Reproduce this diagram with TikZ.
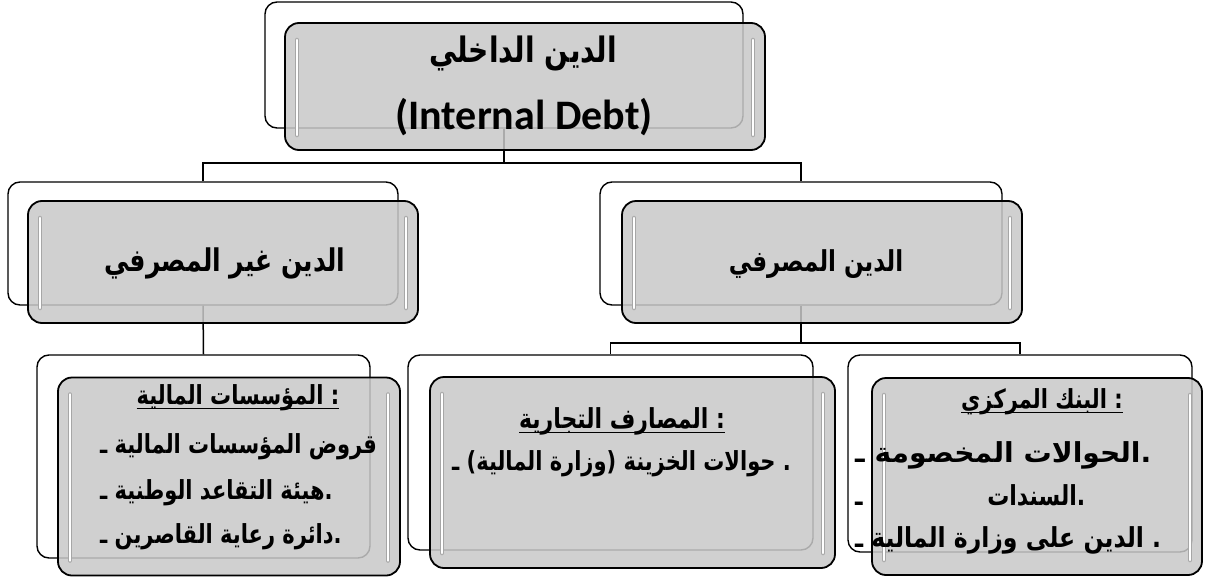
\documentclass[tikz,border=0pt]{standalone}
\usepackage{fontspec}
\usepackage{graphicx}
\TeXXeTstate=1
\newfontfamily\arabicfont[Script=Arabic]{DejaVu Sans}
\newfontfamily\engfont{Carlito}
\usetikzlibrary{calc}
\definecolor{boxgray}{RGB}{200,200,200}
\newcommand\ulr[1]{\setbox0=\hbox{#1}\leavevmode\rlap{\copy0}\raisebox{-5pt}{\rule{\wd0}{1.4pt}}}
\newcommand\fitw[2]{\resizebox{#1}{\height}{#2}}
\newcommand\vs[1]{\scalebox{1}[1.25]{#1}}
\begin{document}
\begin{tikzpicture}[x=1pt,y=-1pt,
  backbox/.style={draw=black, line width=1.4pt, rounded corners=12pt, fill=white, inner sep=0pt},
  frontbox/.style={draw=black, line width=1.8pt, rounded corners=14pt, fill=boxgray, fill opacity=0.85, inner sep=0pt,
    path picture={
      \draw[gray!70, line width=4.5pt, line cap=round, opacity=1]
        ([xshift=12pt,yshift=-17pt]path picture bounding box.north west) -- ([xshift=12pt,yshift=15pt]path picture bounding box.south west)
        ([xshift=-12pt,yshift=-17pt]path picture bounding box.north east) -- ([xshift=-12pt,yshift=15pt]path picture bounding box.south east);
      \draw[white, line width=2.8pt, line cap=round, opacity=1]
        ([xshift=12pt,yshift=-17pt]path picture bounding box.north west) -- ([xshift=12pt,yshift=15pt]path picture bounding box.south west)
        ([xshift=-12pt,yshift=-17pt]path picture bounding box.north east) -- ([xshift=-12pt,yshift=15pt]path picture bounding box.south east);
    }},
  conn/.style={draw=black, line width=1.5pt},
  artext/.style={font=\arabicfont\bfseries, inner sep=0pt, text=black},
  entext/.style={font=\engfont\bfseries, inner sep=0pt, text=black},
  small/.style={artext, font=\arabicfont\bfseries\fontsize{21}{23}\selectfont},
  smallr/.style={artext, font=\arabicfont\bfseries\fontsize{22}{24}\selectfont}]
\useasboundingbox (0,0) rectangle (1206,578);
\fill[white] (0,0) rectangle (1206,578);

% back boxes
\node[backbox, minimum width=478pt, minimum height=126pt] (topB) at (504,65) {};
\node[backbox, minimum width=390pt, minimum height=123pt] (midLB) at (203,243.5) {};
\node[backbox, minimum width=402pt, minimum height=123pt] (midRB) at (801,243.5) {};
\node[backbox, minimum width=333pt, minimum height=203pt] (botLB) at (203.5,456.5) {};
\node[backbox, minimum width=405pt, minimum height=195pt] (botMB) at (610.5,452.5) {};
\node[backbox, minimum width=344pt, minimum height=197pt] (botRB) at (1020,453.5) {};

% connectors
\coordinate (hTop) at (504,163);
\coordinate (hBot) at (801,343);
\draw[conn] (topB.south) -- (hTop);
\draw[conn] (midLB.north) |- (hTop) -| (midRB.north);
\draw[conn] (midLB.south) -- (botLB.north);
\draw[conn] (midRB.south) -- (hBot);
\draw[conn] (botMB.north) |- (hBot) -| (botRB.north);

% front boxes
\node[frontbox, minimum width=480pt, minimum height=127pt] (topF) at (525,86.5) {};
\node[frontbox, minimum width=390pt, minimum height=122pt] (midLF) at (223,262) {};
\node[frontbox, minimum width=400pt, minimum height=122pt] (midRF) at (822,262) {};
\node[frontbox, minimum width=342pt, minimum height=198pt] (botLF) at (229,476.5) {};
\node[frontbox, minimum width=405pt, minimum height=191pt] (botMF) at (632.5,472.5) {};
\node[frontbox, minimum width=330pt, minimum height=197pt] (botRF) at (1037,476.5) {};

% texts
\node[artext, font=\arabicfont\bfseries\fontsize{28}{30}\selectfont, anchor=base] (t1) at (523,63) {\vs{\beginR الدين الداخلي\endR}};
\node[entext, font=\engfont\bfseries\fontsize{42}{44}\selectfont, anchor=base] (t2) at (524,129) {(Internal Debt)};
\node[artext, font=\arabicfont\bfseries\fontsize{25}{28}\selectfont, anchor=base] (t3) at (225,271) {\vs{\beginR الدين غير المصرفي\endR}};
\node[artext, font=\arabicfont\bfseries\fontsize{23}{28}\selectfont, anchor=base] (t4) at (816,271) {\vs{\beginR الدين المصرفي\endR}};

\node[small, anchor=base] (l0) at (238,404) {\ulr{\vs{\beginR المؤسسات المالية\endR{} :}}};
\node[small, anchor=base west] (l1) at (100,453) {\vs{ـ \beginR قروض المؤسسات المالية\endR}};
\node[small, anchor=base west] (l2) at (100,499) {\vs{ـ \beginR هيئة التقاعد الوطنية\endR.}};
\node[small, anchor=base west] (l3) at (100,543) {\vs{ـ \beginR دائرة رعاية القاصرين\endR.}};

\node[smallr, anchor=base] (m0) at (622,428) {\ulr{\vs{\beginR المصارف التجارية\endR{} :}}};
\node[small, anchor=base west] (m1) at (452,470) {\vs{ـ \beginR حوالات الخزينة (وزارة المالية)\endR{} .}};

\node[small, anchor=base] (r0) at (1042,408) {\ulr{\vs{\beginR البنك المركزي\endR{} :}}};
\node[smallr, anchor=base west] (r1) at (855,462) {\vs{\fitw{296pt}{ـ \beginR الحوالات المخصومة\endR.}}};
\node[smallr, anchor=base west] (r2) at (855,505) {\vs{\hbox to 230pt{ـ\hfill\beginR السندات\endR.}}};
\node[smallr, anchor=base west] (r3) at (855,547) {\vs{\fitw{306pt}{ـ \beginR الدين على وزارة المالية\endR{} .}}};
\end{tikzpicture}
\end{document}
